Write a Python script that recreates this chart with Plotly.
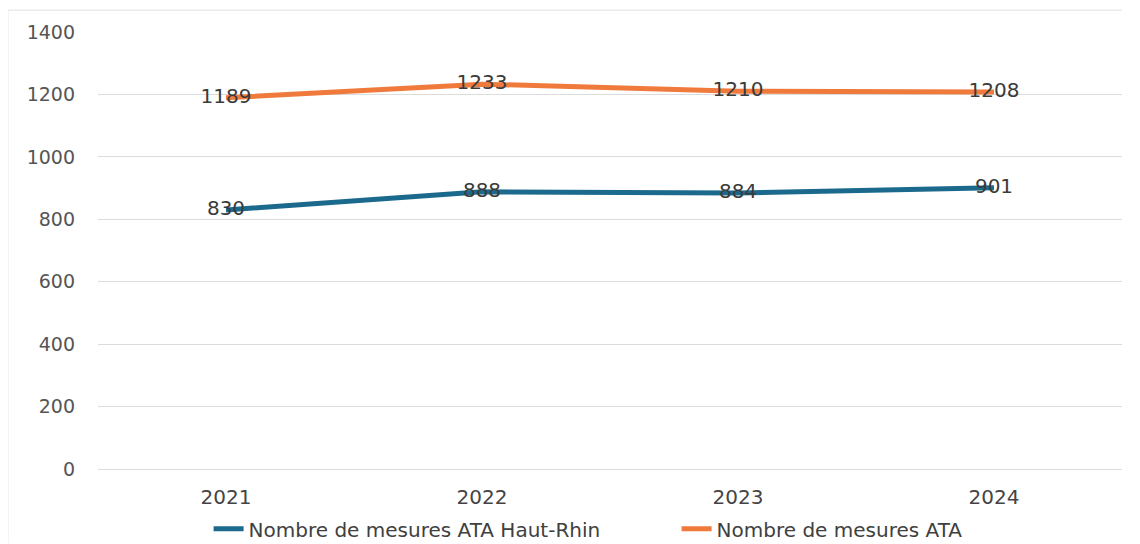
import plotly.graph_objects as go

years = ["2021", "2022", "2023", "2024"]
haut_rhin = [830, 888, 884, 901]
ata_total = [1189, 1233, 1210, 1208]
series_names = ["Nombre de mesures ATA Haut-Rhin", "Nombre de mesures ATA"]
y_ticks = [0, 200, 400, 600, 800, 1000, 1200, 1400]

FONT = "DejaVu Sans"
fig = go.Figure()
fig.add_trace(go.Scatter(
    x=years, y=haut_rhin, name=series_names[0], mode="lines+text",
    text=[str(v) for v in haut_rhin], textposition="middle center",
    textfont=dict(family=FONT, size=20, color="#3a3a3a"),
    line=dict(color="#1b6a8e", width=5),
))
fig.add_trace(go.Scatter(
    x=years, y=ata_total, name=series_names[1], mode="lines+text",
    text=[str(v) for v in ata_total], textposition="middle center",
    textfont=dict(family=FONT, size=20, color="#3a3a3a"),
    line=dict(color="#f07a3c", width=5),
))

fig.update_layout(
    width=1132, height=536,
    margin=dict(l=90, r=18, t=24, b=75, autoexpand=False),
    paper_bgcolor="white", plot_bgcolor="white",
    font=dict(family=FONT, size=19, color="#555555"),
    showlegend=True,
    legend=dict(orientation="h", x=0.108, xanchor="left", y=-0.137, yanchor="middle",
                font=dict(family=FONT, size=20, color="#404040"),
                entrywidth=423, entrywidthmode="pixels",
                tracegroupgap=0),
    xaxis=dict(type="category", range=[-0.5, 3.5], automargin=False,
               showgrid=False, showline=False, ticks="",
               tickfont=dict(size=20, color="#444444"), ticklabelstandoff=14),
    yaxis=dict(range=[0, 1400], tickvals=y_ticks, automargin=False,
               showgrid=True, gridcolor="#dcdcdc",
               gridwidth=1, zeroline=True, zerolinecolor="#dcdcdc", zerolinewidth=1,
               showline=False, ticks="", tickfont=dict(size=19, color="#555555"),
               ticklabelstandoff=22),
    shapes=[
        dict(type="line", xref="paper", yref="paper", x0=-0.088, x1=1.0, y0=1.05, y1=1.05,
             line=dict(color="#e0e0e0", width=1)),
        dict(type="line", xref="paper", yref="paper", x0=-0.088, x1=-0.088, y0=1.05, y1=-0.17,
             line=dict(color="#e0e0e0", width=1)),
    ],
)

fig.write_html("out.html")
